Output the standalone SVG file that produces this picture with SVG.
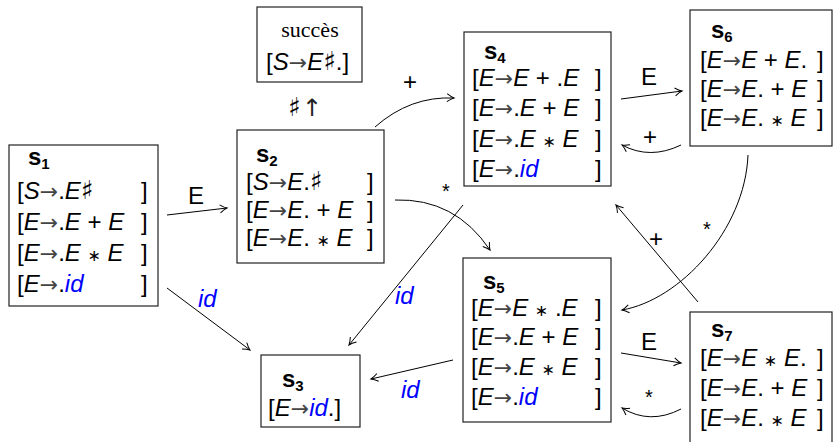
<svg xmlns="http://www.w3.org/2000/svg" width="836" height="442" viewBox="0 0 836 442">
<style>
.box{fill:#fff;stroke:#222;stroke-width:1.2}
.t{font-family:"Liberation Sans",Arial,"DejaVu Sans",sans-serif;font-size:24px;fill:#000}
.i{font-style:italic}
.a{fill:#444;font-family:"DejaVu Sans",sans-serif;font-size:22px}
.b{fill:#0000ff;font-style:italic}
.sh{font-family:"DejaVu Sans",sans-serif;font-size:26px;fill:#000}
.up{font-family:"DejaVu Sans",sans-serif;font-size:24px;fill:#222}
.ast{font-family:"DejaVu Sans",sans-serif;font-size:16px}
.h{font-family:"Liberation Sans",Arial,sans-serif;font-weight:bold;font-size:24px;fill:#000}
.sub{font-size:15px}
.serif{font-family:"Liberation Serif","Times New Roman",serif;font-size:22px;fill:#000}
.lbl{font-family:"Liberation Sans",Arial,sans-serif;font-size:24px;fill:#000}
.lbls{font-family:"Liberation Sans",Arial,sans-serif;font-size:20px;fill:#000}
.lblb{font-family:"Liberation Sans",Arial,sans-serif;font-size:24px;fill:#0000ff;font-style:italic}
.c{fill:none;stroke:#000;stroke-width:1}
</style>
<defs>
<marker id="ah" markerUnits="userSpaceOnUse" markerWidth="12" markerHeight="12" viewBox="-9 -6 11 12" refX="0" refY="0" orient="auto">
<path d="M -7 -4 Q -3 -1 0 0 Q -3 1 -7 4" fill="none" stroke="#000" stroke-width="1"/>
</marker>
</defs>

<g id="connectors">
<path class="c" d="M167,215 L227,208" marker-end="url(#ah)"/>
<text class="lbl" x="188" y="204">E</text>
<path class="c" d="M167,288 L250,350" marker-end="url(#ah)"/>
<text class="lblb" x="198" y="307">id</text>
<path class="c" d="M375,127 Q410,96 454,98" marker-end="url(#ah)"/>
<text class="lbl" x="403" y="90">+</text>
<path class="c" d="M395,200 Q455,198 490,250" marker-end="url(#ah)"/>
<text class="lbls" x="442" y="198">*</text>
<path class="c" d="M463,205 L349,345" marker-end="url(#ah)"/>
<text class="lblb" x="395" y="304">id</text>
<path class="c" d="M621,99 L682,91" marker-end="url(#ah)"/>
<text class="lbl" x="641" y="85">E</text>
<path class="c" d="M681,145 Q650,160 622,145" marker-end="url(#ah)"/>
<text class="lbl" x="643" y="145">+</text>
<path class="c" d="M748,155 C745,230 680,300 622,310" marker-end="url(#ah)"/>
<text class="lbls" x="703" y="236">*</text>
<path class="c" d="M698,302 L616,205" marker-end="url(#ah)"/>
<text class="lbl" x="649" y="247">+</text>
<path class="c" d="M453,360 L371,379" marker-end="url(#ah)"/>
<text class="lblb" x="401" y="398">id</text>
<path class="c" d="M621,353 L681,363" marker-end="url(#ah)"/>
<text class="lbl" x="641" y="350">E</text>
<path class="c" d="M681,409 Q650,425 622,408" marker-end="url(#ah)"/>
<text class="lbls" x="645" y="404">*</text>
<text class="sh" x="288" y="116">♯</text>
<text class="up" x="302" y="116">↑</text>
</g>

<g id="succes">
<rect class="box" x="257" y="7" width="105" height="75"/>
<text class="serif" x="310" y="37" text-anchor="middle">succès</text>
<text class="t" x="266" y="70">[<tspan class="i">S</tspan><tspan class="a">→</tspan><tspan class="i">E</tspan><tspan class="sh">♯</tspan>.]</text>
</g>

<g id="s1">
<rect class="box" x="9" y="145" width="149" height="161"/>
<text class="h" x="28" y="165">s<tspan class="sub" dy="4">1</tspan></text>
<text class="t" x="17" y="199">[<tspan class="i">S</tspan><tspan class="a">→</tspan>.<tspan class="i">E</tspan><tspan class="sh">♯</tspan><tspan x="141">]</tspan></text>
<text class="t" x="17" y="230">[<tspan class="i">E</tspan><tspan class="a">→</tspan>.<tspan class="i">E</tspan> + <tspan class="i">E</tspan><tspan x="141">]</tspan></text>
<text class="t" x="17" y="261">[<tspan class="i">E</tspan><tspan class="a">→</tspan>.<tspan class="i">E</tspan> <tspan class="ast">∗</tspan> <tspan class="i">E</tspan><tspan x="141">]</tspan></text>
<text class="t" x="17" y="292">[<tspan class="i">E</tspan><tspan class="a">→</tspan>.<tspan class="b">id</tspan><tspan x="141">]</tspan></text>
</g>

<g id="s2">
<rect class="box" x="237" y="130" width="147" height="133"/>
<text class="h" x="256" y="162">s<tspan class="sub" dy="4">2</tspan></text>
<text class="t" x="246" y="190">[<tspan class="i">S</tspan><tspan class="a">→</tspan><tspan class="i">E</tspan>.<tspan class="sh">♯</tspan><tspan x="367">]</tspan></text>
<text class="t" x="246" y="218">[<tspan class="i">E</tspan><tspan class="a">→</tspan><tspan class="i">E</tspan>. + <tspan class="i">E</tspan><tspan x="367">]</tspan></text>
<text class="t" x="246" y="246">[<tspan class="i">E</tspan><tspan class="a">→</tspan><tspan class="i">E</tspan>. <tspan class="ast">∗</tspan> <tspan class="i">E</tspan><tspan x="367">]</tspan></text>
</g>

<g id="s3">
<rect class="box" x="261" y="355" width="99" height="72"/>
<text class="h" x="282" y="387">s<tspan class="sub" dy="4">3</tspan></text>
<text class="t" x="268" y="416">[<tspan class="i">E</tspan><tspan class="a">→</tspan><tspan class="b">id</tspan>.]</text>
</g>

<g id="s4">
<rect class="box" x="464" y="32" width="147" height="154"/>
<text class="h" x="484" y="59">s<tspan class="sub" dy="4">4</tspan></text>
<text class="t" x="472" y="86">[<tspan class="i">E</tspan><tspan class="a">→</tspan><tspan class="i">E</tspan> + .<tspan class="i">E</tspan><tspan x="595">]</tspan></text>
<text class="t" x="472" y="116">[<tspan class="i">E</tspan><tspan class="a">→</tspan>.<tspan class="i">E</tspan> + <tspan class="i">E</tspan><tspan x="595">]</tspan></text>
<text class="t" x="472" y="147">[<tspan class="i">E</tspan><tspan class="a">→</tspan>.<tspan class="i">E</tspan> <tspan class="ast">∗</tspan> <tspan class="i">E</tspan><tspan x="595">]</tspan></text>
<text class="t" x="472" y="177">[<tspan class="i">E</tspan><tspan class="a">→</tspan>.<tspan class="b">id</tspan><tspan x="595">]</tspan></text>
</g>

<g id="s5">
<rect class="box" x="463" y="258" width="148" height="164"/>
<text class="h" x="483" y="289">s<tspan class="sub" dy="4">5</tspan></text>
<text class="t" x="471" y="316">[<tspan class="i">E</tspan><tspan class="a">→</tspan><tspan class="i">E</tspan> <tspan class="ast">∗</tspan> .<tspan class="i">E</tspan><tspan x="595">]</tspan></text>
<text class="t" x="471" y="345">[<tspan class="i">E</tspan><tspan class="a">→</tspan>.<tspan class="i">E</tspan> + <tspan class="i">E</tspan><tspan x="595">]</tspan></text>
<text class="t" x="471" y="375">[<tspan class="i">E</tspan><tspan class="a">→</tspan>.<tspan class="i">E</tspan> <tspan class="ast">∗</tspan> <tspan class="i">E</tspan><tspan x="595">]</tspan></text>
<text class="t" x="471" y="405">[<tspan class="i">E</tspan><tspan class="a">→</tspan>.<tspan class="b">id</tspan><tspan x="595">]</tspan></text>
</g>

<g id="s6">
<rect class="box" x="690" y="10" width="142" height="136"/>
<text class="h" x="711" y="38">s<tspan class="sub" dy="4">6</tspan></text>
<text class="t" x="700" y="68">[<tspan class="i">E</tspan><tspan class="a">→</tspan><tspan class="i">E</tspan> + <tspan class="i">E</tspan>.<tspan x="817">]</tspan></text>
<text class="t" x="700" y="97">[<tspan class="i">E</tspan><tspan class="a">→</tspan><tspan class="i">E</tspan>. + <tspan class="i">E</tspan><tspan x="817">]</tspan></text>
<text class="t" x="700" y="126">[<tspan class="i">E</tspan><tspan class="a">→</tspan><tspan class="i">E</tspan>. <tspan class="ast">∗</tspan> <tspan class="i">E</tspan><tspan x="817">]</tspan></text>
</g>

<g id="s7">
<rect class="box" x="690" y="312" width="142" height="140"/>
<text class="h" x="711" y="337">s<tspan class="sub" dy="4">7</tspan></text>
<text class="t" x="700" y="366">[<tspan class="i">E</tspan><tspan class="a">→</tspan><tspan class="i">E</tspan> <tspan class="ast">∗</tspan> <tspan class="i">E</tspan>.<tspan x="817">]</tspan></text>
<text class="t" x="700" y="396">[<tspan class="i">E</tspan><tspan class="a">→</tspan><tspan class="i">E</tspan>. + <tspan class="i">E</tspan><tspan x="817">]</tspan></text>
<text class="t" x="700" y="426">[<tspan class="i">E</tspan><tspan class="a">→</tspan><tspan class="i">E</tspan>. <tspan class="ast">∗</tspan> <tspan class="i">E</tspan><tspan x="817">]</tspan></text>
</g>
</svg>
